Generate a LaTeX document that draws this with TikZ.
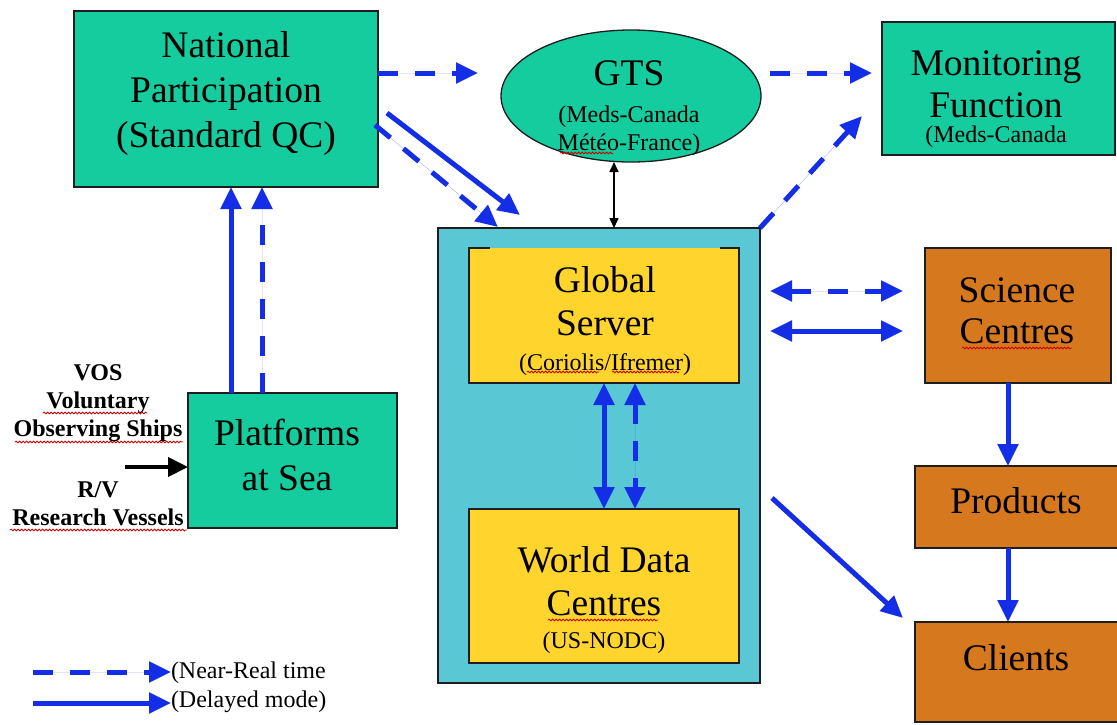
\documentclass[tikz,border=0pt]{standalone}
\usepackage{fontspec}
\setmainfont{Liberation Serif}
\usetikzlibrary{arrows.meta,shapes.geometric,calc,decorations.pathmorphing}
\definecolor{tealbox}{RGB}{20,204,158}
\definecolor{cyanbox}{RGB}{90,200,212}
\definecolor{yellowbox}{RGB}{255,212,45}
\definecolor{orangebox}{RGB}{214,120,30}
\definecolor{flowblue}{RGB}{20,45,230}
\definecolor{edgec}{RGB}{30,30,30}
\newcommand\mlines[1]{\begin{tabular}[t]{@{}c@{}}#1\end{tabular}}
\newcommand\smallfnt{\fontsize{24}{28}\selectfont}
\begin{document}
\begin{tikzpicture}[x=1pt,y=-1pt,
  >={Triangle[length=22pt,width=20pt]},
  box/.style={draw=edgec, line width=1.3pt, anchor=north west, inner sep=0pt, outer sep=0pt},
  txt/.style={anchor=base, inner sep=0pt, outer sep=0pt, text=black},
  edge/.style={draw=edgec, line width=1.3pt},
  dm/.style={draw=flowblue, fill=flowblue, line width=5pt},
  nrt/.style={draw=flowblue, fill=flowblue, line width=5pt, dash pattern=on 20pt off 17pt},
  thinblk/.style={draw=black, line width=1.5pt, {Triangle[length=10pt,width=9pt]}-{Triangle[length=10pt,width=9pt]}},
  spell/.style={draw=red!80!black, line width=0.8pt, decorate, decoration={snake, amplitude=0.9pt, segment length=3.5pt}}
]
\useasboundingbox[fill=white] (0,0) rectangle (1117,724);

% boxes
\node[box, fill=tealbox, minimum width=304pt, minimum height=176pt] (nat) at (74,11) {};
\node[draw=edgec, line width=1.3pt, fill=tealbox, ellipse, minimum width=260pt, minimum height=132pt, inner sep=0pt, outer sep=0pt] (gts) at (631,96) {};
\node[box, fill=tealbox, minimum width=233pt, minimum height=133pt] (mon) at (882,22) {};
\node[box, fill=cyanbox, minimum width=322pt, minimum height=455pt] (core) at (438,228) {};
\node[anchor=north west, fill=yellowbox, inner sep=0pt, outer sep=0pt, minimum width=270pt, minimum height=135pt] (gs) at (469,248) {};
\draw[edge] ($(gs.north west)+(21,0)$) -- (gs.north west) -- (gs.south west) -- (gs.south east) -- (gs.north east) -- ($(gs.north east)+(-19,0)$);
\node[box, fill=yellowbox, minimum width=270pt, minimum height=154pt] (wdc) at (469,509) {};
\node[box, fill=tealbox, minimum width=209pt, minimum height=135pt] (plat) at (188,393) {};
\node[box, fill=orangebox, minimum width=186pt, minimum height=135pt] (sci) at (925,248) {};
\node[box, fill=orangebox, minimum width=205pt, minimum height=82pt] (prod) at (915,466) {};
\node[box, fill=orangebox, minimum width=205pt, minimum height=100pt] (cli) at (915,622) {};

% texts
\node[txt, font=\fontsize{37.5}{45}\selectfont] (natT) at (226,57) {\mlines{National\\Participation\\(Standard QC)}};
\node[txt, font=\smallfnt] (gtsT) at (629,85) {\mlines{{\fontsize{37.5}{45}\selectfont GTS}\\[9pt](Meds-Canada\\Météo-France)}};
\node[txt, font=\fontsize{37.5}{42}\selectfont] (monT) at (996,75) {\mlines{Monitoring\\Function\\[-17pt]{\smallfnt(Meds-Canada}}};
\node[txt, font=\fontsize{37.5}{43}\selectfont] (gsT) at (605,292) {\mlines{Global\\Server\\[-8pt]{\smallfnt(Coriolis/Ifremer)}}};
\node[txt, font=\fontsize{37.5}{43}\selectfont] (wdcT) at (604,572) {\mlines{World Data\\Centres\\[-10pt]{\smallfnt(US-NODC)}}};
\node[txt, font=\fontsize{37.5}{45}\selectfont] (platT) at (287,445) {\mlines{Platforms\\at Sea}};
\node[txt, font=\fontsize{37.5}{41}\selectfont] (sciT) at (1017,302) {\mlines{Science\\Centres}};
\node[txt, font=\fontsize{37.5}{45}\selectfont] (prodT) at (1016,513) {Products};
\node[txt, font=\fontsize{37.5}{45}\selectfont] (cliT) at (1016,670) {Clients};
\node[txt, font=\fontsize{24}{28}\selectfont\bfseries] (vos) at (98,380) {\mlines{VOS\\Voluntary\\Observing Ships\\[33pt]R/V\\Research Vessels}};
\node[txt, anchor=base west, font=\smallfnt] (leg1) at (171,678) {(Near-Real time};
\node[txt, anchor=base west, font=\smallfnt] (leg2) at (171,707) {(Delayed mode)};

% spell-check marks
\draw[spell] (43,413) -- (147,413);
\draw[spell] (15,442) -- (183,442);
\draw[spell] (10,530) -- (187,530);
\draw[spell] (560,153) -- (613,153);
\draw[spell] (527,372) -- (599,372);
\draw[spell] (612,372) -- (679,372);
\draw[spell] (962,348) -- (1072,348);
\draw[spell] (548,620) -- (658,620);

% connectors
\coordinate (gtsin) at ($(gts.west)+(-23,-23)$);
\draw[nrt,->] (nat.east |- gtsin) -- (gtsin);
\coordinate (monin) at ($(mon.north west)+(-10,51)$);
\coordinate (gtsout) at ($(gts.east |- monin)+(9,0)$);
\draw[nrt,->] (gtsout) -- (monin);

\coordinate (n1) at ($(nat.north east)+(9,102)$);
\coordinate (c1) at ($(core.north west)+(82,-13)$);
\draw[dm,->] (n1) -- (c1);
\coordinate (n2) at ($(nat.north east)+(-3,114)$);
\coordinate (c2) at ($(core.north west)+(60,-1)$);
\draw[nrt,->] (n2) -- (c2);

\coordinate (m2) at ($(mon.north west)+(-20,94)$);
\draw[nrt,->] (core.north east) -- (m2);

\coordinate (pa) at ($(plat.north west)+(43,0)$);
\coordinate (pb) at ($(plat.north west)+(74,0)$);
\draw[dm,->] (pa) -- (pa |- nat.south);
\draw[nrt,->] (pb) -- (pb |- nat.south);

\draw[dm,<->] (gs.south) -- (wdc.north);
\coordinate (gd) at ($(gs.south)+(31,0)$);
\draw[nrt,<->] (gd) -- (gd |- wdc.north);

\coordinate (s0) at ($(core.north east)+(10,63)$);
\coordinate (s1) at ($(sci.north west)+(-22,43)$);
\draw[nrt,<->] (s0) -- (s1);
\coordinate (s2) at ($(core.north east)+(10,103)$);
\coordinate (s3) at ($(sci.north west)+(-22,83)$);
\draw[dm,<->] (s2) -- (s3);

\coordinate (sp) at ($(sci.south)+(-10,0)$);
\draw[dm,->] (sp) -- (sp |- prod.north);
\draw[dm,->] (sp |- prod.south) -- (sp |- cli.north);

\coordinate (k1) at ($(core.north east)+(12,270)$);
\coordinate (k2) at ($(cli.north west)+(-12,-4)$);
\draw[dm,->] (k1) -- (k2);

\coordinate (gb) at ($(gts.south)+(-17,0)$);
\draw[thinblk] (gb) -- (gb |- core.north);

\coordinate (vin) at (125,467);
\draw[draw=black, line width=4pt, -{Triangle[length=20pt,width=19pt]}] (vin) -- (vin -| plat.west);

\coordinate (l1) at (33,672);
\draw[nrt,->] (l1) -- (l1 -| leg1.west);
\coordinate (l2) at (33,703);
\draw[dm,->] (l2) -- (l2 -| leg2.west);
\end{tikzpicture}
\end{document}
